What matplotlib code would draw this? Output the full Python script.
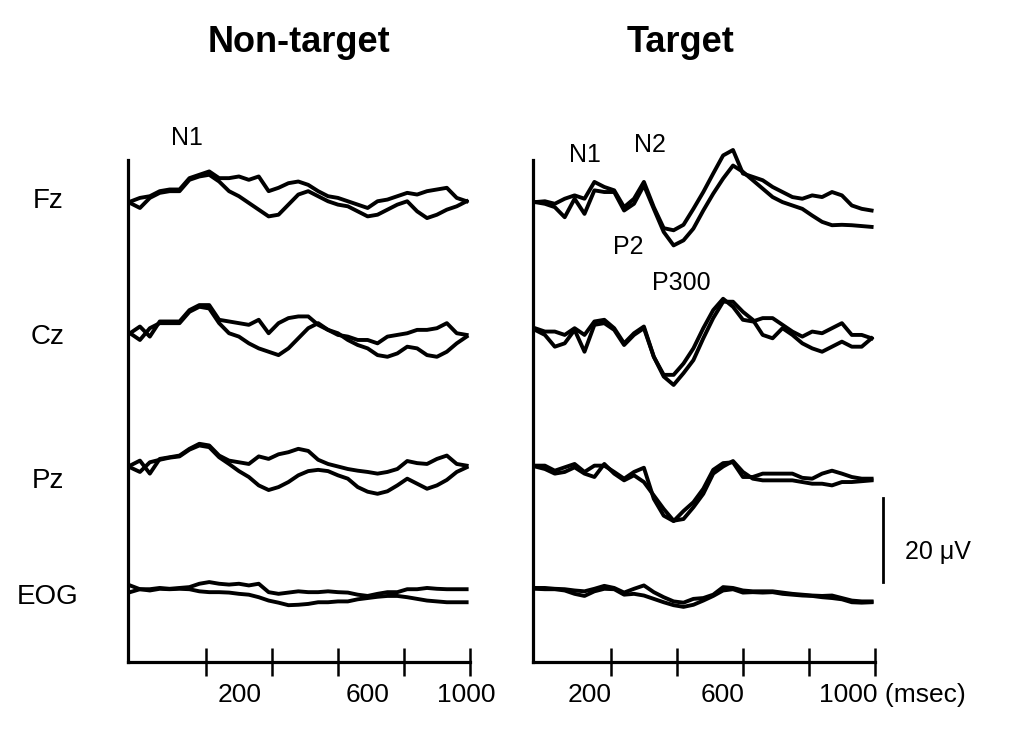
# ERP waveforms (non-target vs target), two averaged traces per channel
import matplotlib
matplotlib.use("Agg")
from matplotlib import pyplot as plt

plt.rcParams['font.family'] = ['Liberation Sans', 'DejaVu Sans']

# sample times (msec)
times = [-30, 0, 30, 60, 90, 120, 150, 180, 210, 240, 270, 300, 330, 360, 390, 420, 450,
         480, 510, 540, 570, 600, 630, 660, 690, 720, 750, 780, 810, 840, 870, 900, 930,
         960, 990]

channels = ['Fz', 'Cz', 'Pz', 'EOG']

# amplitudes in microvolts (negative plotted upward)
nt_fz_a = [0, -0.9, -1.3, -2.5, -2.9, -2.9, -5.6, -6.4, -7.2, -5.6, -5.6, -6.0, -5.2, -6.0,
           -2.5, -3.3, -4.4, -4.8, -4.0, -2.5, -1.3, -0.9, -0.1, 0.7, 1.5, -0.1, -0.5, -1.3,
           -2.1, -1.7, -2.5, -2.9, -3.3, -0.9, -0.1]
nt_fz_b = [0.3, 1.5, -0.9, -2.1, -2.5, -2.5, -5.2, -6.0, -6.4, -4.8, -2.5, -1.3, 0.3, 1.9,
           3.5, 3.1, 0.7, -1.7, -2.5, -1.3, -0.1, 0.7, 1.1, 2.3, 3.5, 3.1, 1.9, 0.7, -0.1,
           2.3, 3.9, 3.1, 1.9, 1.1, -0.1]
nt_cz_a = [0.3, -1.3, 1.1, -2.5, -2.5, -2.5, -5.2, -6.4, -6.4, -2.9, -2.5, -2.1, -1.7, -2.9,
           0.3, -2.1, -3.3, -3.7, -3.7, -1.7, -0.5, 0.7, 1.1, 1.9, 1.9, 2.7, 1.1, 0.7, 0.3,
           -0.5, -0.5, -0.9, -2.1, 0.3, 0.7]
nt_cz_b = [0.3, 1.9, -0.9, -2.1, -2.1, -2.1, -4.8, -6.0, -5.6, -2.1, 0.3, 1.1, 2.7, 3.9,
           4.7, 5.5, 3.9, 1.5, -0.9, -2.1, -0.5, 0.3, 1.9, 3.1, 3.9, 5.5, 5.9, 5.1, 3.5,
           3.9, 5.5, 5.9, 4.7, 2.7, 1.1]
nt_pz_a = [-0.2, -1.4, 1.7, -1.8, -2.2, -2.6, -4.2, -5.4, -5.0, -2.6, -1.4, -1.0, -0.6, -2.4,
           -1.8, -2.9, -3.4, -4.2, -3.7, -1.6, -0.6, 0, 0.6, 1.0, 1.3, 1.7, 1.3, 0.6, -1.3,
           -0.8, -0.6, -1.8, -2.6, -0.6, -0.2]
nt_pz_b = [0.2, 1.3, -1.0, -1.6, -2.1, -2.4, -4.0, -5.0, -4.6, -2.2, -0.6, 1.1, 2.5, 4.5,
           5.6, 4.9, 3.7, 2.1, 1.1, 0.8, 1.1, 2.1, 2.9, 4.9, 6.0, 6.5, 5.9, 4.5, 2.9, 4.1,
           5.3, 4.5, 3.2, 1.3, 0.2]
nt_eog_a = [-0.7, 0.2, 0.2, -0.1, 0.1, -0.1, -0.3, -1.1, -1.5, -1.1, -0.9, -1.1, -0.7, -1.1,
            0.9, 1.3, 1.0, 0.7, 0.9, 0.9, 0.7, 0.9, 1.0, 1.5, 1.8, 1.3, 0.9, 0.9, 0.2, 0.2,
            -0.1, 0.1, 0.2, 0.2, 0.2]
nt_eog_b = [0.9, 0.2, 0.5, 0.1, 0.2, 0.1, 0.2, 0.7, 0.9, 0.9, 1.0, 1.3, 1.5, 2.1, 2.9, 3.4,
            4.0, 3.9, 3.7, 3.3, 3.3, 3.1, 3.1, 2.6, 2.3, 2.0, 1.8, 1.8, 2.1, 2.5, 2.9, 3.1,
            3.3, 3.3, 3.3]

t_fz_a = [0.1, -0.1, 0.5, -0.7, -1.5, -0.7, -4.7, -3.5, -2.7, 1.3, -0.7, -4.7, 1.3, 6.3,
          6.8, 5.5, 1.7, -2.3, -6.7, -11.0, -12.3, -6.7, -5.9, -5.1, -3.5, -2.3, -1.1, -0.7,
          -1.5, -1.1, -2.3, -1.5, 0.9, 1.7, 2.1]
t_fz_b = [0.1, 0.5, 1.3, 3.7, -0.7, 2.9, -2.7, -2.3, -2.3, 2.1, 0.5, -3.9, 1.7, 7.2, 10.4,
          9.2, 6.4, 2.1, -1.9, -5.5, -8.6, -7.1, -5.1, -3.1, -1.1, 0.1, 0.9, 1.7, 3.3, 4.8,
          5.6, 5.5, 5.6, 5.8, 6.0]
t_cz_a = [-0.9, -0.1, -0.1, 0.7, -0.9, 0.7, -2.5, -2.9, -0.9, 2.7, 0.3, -1.3, 5.9, 10.2,
          10.2, 7.5, 3.9, -0.9, -5.2, -7.9, -6.0, -2.9, -2.5, -3.3, -3.3, -1.7, -0.1, 1.1,
          -0.1, 0.3, -0.9, -2.1, 0.7, 0.7, 1.5]
t_cz_b = [-0.5, 0.7, 3.5, 2.7, -0.5, 4.7, -1.7, -2.1, -0.5, 3.1, 0.7, -0.9, 5.9, 10.6, 12.6,
          9.8, 6.7, 1.5, -3.3, -7.2, -7.2, -4.8, -2.9, 0.7, 1.5, -0.9, 0.7, 2.7, 3.9, 4.7,
          3.5, 2.3, 3.5, 3.5, 1.5]
t_pz_a = [-0.2, -0.2, 1.0, 0.2, -0.6, 1.3, -0.2, -0.2, 1.3, 2.9, 1.3, 0.3, 7.7, 11.7, 13.0,
          10.6, 8.5, 5.3, 0.8, -0.8, -1.0, 2.5, 2.5, 1.7, 1.7, 1.7, 1.7, 2.7, 2.9, 1.7, 1.0,
          1.7, 2.5, 2.9, 2.9]
t_pz_b = [0, 0.6, 1.7, 1.3, 0.2, 1.7, 2.5, -0.6, 1.7, 3.3, 2.1, 3.7, 6.9, 10.1, 12.9, 12.5,
          9.7, 6.5, 1.7, 0, -1.3, 1.3, 2.9, 3.3, 3.3, 3.3, 3.3, 3.7, 4.1, 4.1, 4.5, 3.7, 3.7,
          3.5, 3.3]
t_eog_a = [-0.1, -0.1, 0.1, 0.2, 0.5, 0.7, 0.1, -0.6, -0.1, 1.0, 0.1, -0.7, 0.9, 2.1, 3.1,
           3.4, 2.5, 2.3, 1.5, -0.3, -0.1, 0.5, 0.7, 0.7, 0.7, 1.0, 1.3, 1.5, 1.7, 1.8, 1.7,
           2.3, 2.9, 3.1, 3.1]
t_eog_b = [0.1, 0.2, 0.2, 0.5, 1.3, 1.8, 0.7, 0.1, 0.2, 1.5, 1.3, 1.7, 2.5, 3.3, 4.0, 4.4,
           3.9, 2.9, 1.8, 0.5, 0.2, 1.0, 0.9, 1.0, 0.9, 1.3, 1.5, 1.7, 1.8, 2.1, 2.3, 2.6,
           3.3, 3.4, 3.3]

non_target = [(nt_fz_a, nt_fz_b), (nt_cz_a, nt_cz_b), (nt_pz_a, nt_pz_b), (nt_eog_a, nt_eog_b)]
target = [(t_fz_a, t_fz_b), (t_cz_a, t_cz_b), (t_pz_a, t_pz_b), (t_eog_a, t_eog_b)]

# vertical position of each channel baseline (uV below top of axes)
offsets = [10, 41, 73, 102]
label_pos = [9.8, 42.1, 76.4, 104]
tick_ms = [200, 400, 600, 800, 1000]

fig = plt.figure(figsize=(10.36, 7.29), dpi=100)
ax1 = fig.add_axes([0.1236, 0.092, 0.330, 0.689])
ax2 = fig.add_axes([0.5145, 0.092, 0.330, 0.689])

for ax, panel in [(ax1, non_target), (ax2, target)]:
    for (a, b), off in zip(panel, offsets):
        ax.plot(times, [off + v for v in a], color='black', lw=2.8, clip_on=False)
        ax.plot(times, [off + v for v in b], color='black', lw=2.8, clip_on=False)
    ax.set_xlim(-36, 1000)
    ax.set_ylim(119.5, 0)
    for s in ['top', 'right']:
        ax.spines[s].set_visible(False)
    ax.spines['left'].set_linewidth(2.3)
    ax.spines['bottom'].set_linewidth(2.3)
    ax.set_xticks(tick_ms)
    ax.set_xticklabels([])
    ax.set_yticks([])
    ax.tick_params(axis='x', direction='inout', length=20, width=1.8)

# row labels
for name, y in zip(channels, label_pos):
    ax1.text(-0.235, y, name, transform=ax1.get_yaxis_transform(), fontsize=20,
             ha='center', va='center')

# titles
fig.text(0.289, 0.942, 'Non-target', fontsize=26, fontweight='bold', ha='center', va='center')
fig.text(0.657, 0.942, 'Target', fontsize=26, fontweight='bold', ha='center', va='center')

# tick labels (offset as in the original)
lab_y = -0.065
for x, s in [(303, '200'), (691, '600'), (988, '1000')]:
    ax1.text(x, lab_y, s, transform=ax1.get_xaxis_transform(), fontsize=19, ha='center',
             va='center')
for x, s in [(137, '200'), (537, '600')]:
    ax2.text(x, lab_y, s, transform=ax2.get_xaxis_transform(), fontsize=19, ha='center',
             va='center')
ax2.text(830, lab_y, '1000 (msec)', transform=ax2.get_xaxis_transform(), fontsize=19,
         ha='left', va='center')

# component labels
ax1.text(143, -5.2, 'N1', fontsize=18, ha='center', va='center', clip_on=False)
ax2.text(122, -1.2, 'N1', fontsize=18, ha='center', va='center', clip_on=False)
ax2.text(319, -3.6, 'N2', fontsize=18, ha='center', va='center', clip_on=False)
ax2.text(252, 20.7, 'P2', fontsize=18, ha='center', va='center')
ax2.text(412, 29.3, 'P300', fontsize=18, ha='center', va='center')

# 20 uV calibration bar
ax2.plot([1025, 1025], [80.5, 100.5], color='black', lw=2.0, clip_on=False)
ax2.text(1091, 93.3, '20 \u03bcV', fontsize=18, ha='left', va='center', clip_on=False)

fig.savefig('out.png', dpi=100)
